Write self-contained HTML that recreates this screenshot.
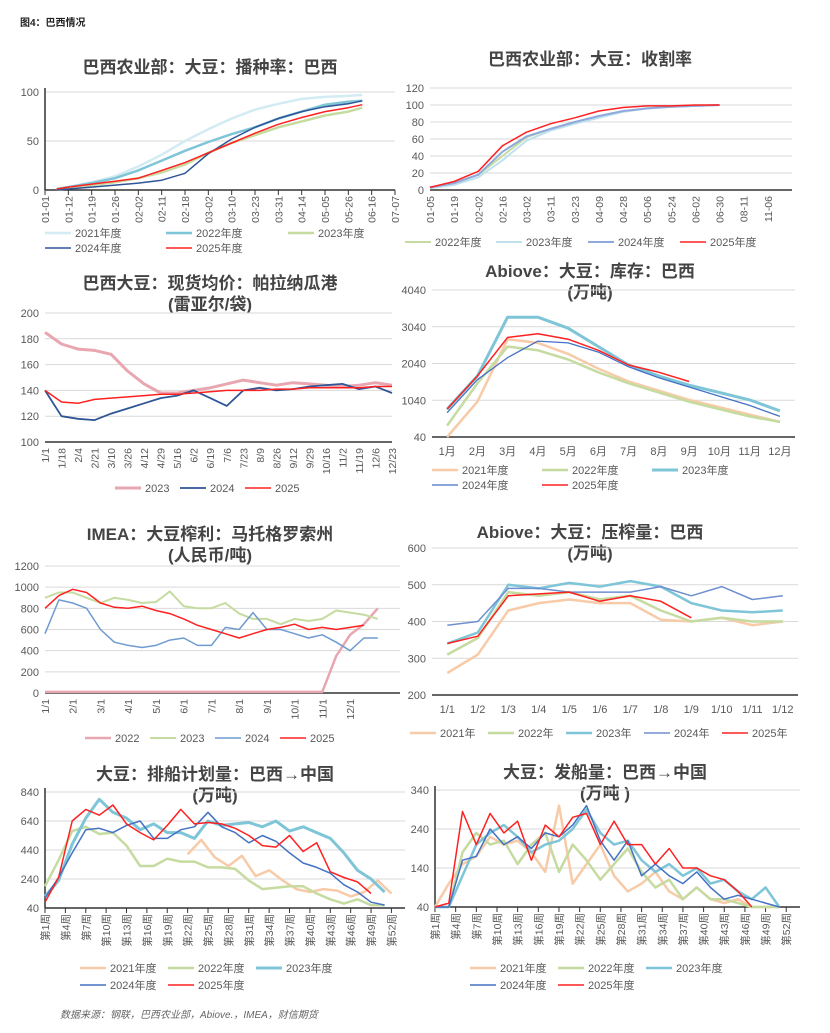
<!DOCTYPE html>
<html><head><meta charset="utf-8"><style>
body{margin:0;background:#fff;}
svg{display:block;font-family:"Liberation Sans","Noto Sans CJK SC",sans-serif;}
</style></head><body>
<svg id="c" width="830" height="1033" viewBox="0 0 830 1033">
<text x="20" y="26" font-size="10" font-weight="bold" fill="#222">图4：巴西情况</text>
<text x="60" y="1018" font-size="10" font-style="italic" fill="#666">数据来源：钢联，巴西农业部，Abiove.，IMEA，财信期货</text>
</svg>
<script>
// ---- Chart 1 data: planting rate
const c1Labels=["01-01","01-12","01-19","01-26","02-02","02-11","02-18","03-02","03-10","03-23","03-31","04-14","05-05","05-26","06-16","07-07"];
const c1X=[0.5,1,2,3,4,5,6,7,8,9,10,11,12,13,13.6];
const c1s2021=[1,3,8,14,24,36,50,62,73,82,88,93,95,96,97];
const c1s2022=[1,3,7,12,20,30,40,49,57,64,73,80,87,90,91];
const c1s2023=[0,2,5,8,12,18,26,38,48,56,64,70,76,80,84];
const c1s2024=[0,1,3,5,7,10,17,37,52,64,73,80,85,88,91];
const c1s2025=[1,3,6,9,12,20,28,38,48,58,67,74,80,84,87];
// ---- Chart 2: harvest rate
const c2Labels=["01-05","01-19","02-02","02-16","03-02","03-11","03-23","04-09","04-28","05-06","05-24","06-02","06-30","08-11","11-06",""];
const c2X=[0,1,2,3,4,5,6,7,8,9,10,11,12];
const c2s2022=[3,8,18,40,62,72,80,86,92,96,98,99,100];
const c2s2023=[2,6,15,35,58,70,78,85,92,96,98,99,100];
const c2s2024=[3,8,18,45,63,72,80,87,93,96,98,99,100];
const c2s2025=[3,10,22,52,68,78,85,93,97,99,99,100,100];
// ---- Chart 3: spot price Paranagua
const c3Labels=["1/1","1/18","2/4","2/21","3/10","3/26","4/12","4/29","5/16","6/2","6/19","7/6","7/23","8/9","8/26","9/12","9/29","10/16","11/2","11/19","12/6","12/23"];
const c3X=[0,1,2,3,4,5,6,7,8,9,10,11,12,13,14,15,16,17,18,19,20,21];
const c3s2023=[185,176,172,171,168,155,145,138,138,140,142,145,148,146,144,146,145,144,143,144,146,144];
const c3s2024=[140,120,118,117,122,126,130,134,136,140,134,128,140,142,140,141,143,144,145,141,143,138];
const c3s2025=[140,131,130,133,134,135,136,137,137,138,139,140,140,140,141,141,142,142,142,142,143,143];
// ---- Chart 4: Abiove stocks
const mLabels=["1月","2月","3月","4月","5月","6月","7月","8月","9月","10月","11月","12月"];
const mX=[0,1,2,3,4,5,6,7,8,9,10,11];
const c4s2021=[40,1000,2700,2600,2300,1900,1550,1300,1050,850,650,450];
const c4s2022=[350,1500,2500,2400,2150,1800,1500,1250,1000,800,600,450];
const c4s2023=[800,1700,3300,3300,3000,2500,2000,1700,1450,1250,1050,750];
const c4s2024=[700,1600,2200,2650,2600,2350,1950,1650,1400,1150,900,600];
const c4s2025=[800,1700,2750,2850,2700,2400,2000,1800,1550];
// ---- Chart 5: IMEA crush margin
const c5Labels=["1/1","2/1","3/1","4/1","5/1","6/1","7/1","8/1","9/1","10/1","11/1","12/1"];
const c5X=[0,0.5,1,1.5,2,2.5,3,3.5,4,4.5,5,5.5,6,6.5,7,7.5,8,8.5,9,9.5,10,10.5,11,11.5,12];
const c5s2022=[10,10,10,10,10,10,10,10,10,10,10,10,10,10,10,10,10,10,10,10,10,350,550,650,800];
const c5s2023=[900,950,950,900,850,900,880,850,860,960,820,800,800,850,750,700,700,650,700,680,700,780,760,740,700];
const c5s2024=[560,880,850,800,600,480,450,430,450,500,520,450,450,620,600,760,600,600,560,520,550,480,400,520,520];
const c5s2025=[800,920,980,950,850,810,800,820,780,750,700,640,600,560,520,560,600,620,650,600,620,600,620,640];
// ---- Chart 6: Abiove crush
const c6Labels=["1/1","1/2","1/3","1/4","1/5","1/6","1/7","1/8","1/9","1/10","1/11","1/12"];
const c6s2021=[260,310,430,450,460,450,450,405,400,410,390,400];
const c6s2022=[310,355,480,470,480,460,470,430,400,410,400,400];
const c6s2023=[340,370,500,490,505,495,510,495,450,430,425,430];
const c6s2024=[390,400,490,490,480,480,480,495,470,495,460,470];
const c6s2025=[340,360,470,475,480,455,470,455,410];
// ---- Chart 7: shipping plan (weeks)
const wLabels=["第1周","第4周","第7周","第10周","第13周","第16周","第19周","第22周","第25周","第28周","第31周","第34周","第37周","第40周","第43周","第46周","第49周","第52周"];
const wX=[1,3,5,7,9,11,13,15,17,19,21,23,25,27,29,31,33,35,37,39,41,43,45,47,49,51];
const w21X=[22,24,26,28,30,32,34,36,38,40,42,44,46,48,50,52];
const c7s2021=[410,510,390,330,400,260,300,230,170,150,170,160,120,150,230,140];
const c7s2022=[190,370,570,600,550,560,470,330,330,380,360,360,320,320,310,230,170,180,190,190,140,100,70,100,60,60];
const c7s2023=[120,230,480,660,790,700,660,580,620,560,560,520,640,610,620,630,600,640,570,600,560,520,420,300,240,150];
const c7s2024=[110,250,420,580,590,560,610,640,520,520,580,600,700,600,560,490,540,500,420,350,320,280,200,150,80,60];
const c7s2025=[80,250,640,720,680,750,620,560,510,610,720,620,630,620,590,540,470,460,540,430,490,290,250,220,140];
// ---- Chart 8: shipments (weeks)
const c8s2021=[40,100,150,170,220,200,210,180,130,300,100,150,200,120,80,100,130,80,60,90,60,50,60,40,40,40];
const c8s2022=[40,40,180,230,200,210,150,200,230,130,200,160,110,150,190,130,90,110,60,90,60,60,50,40,40,40];
const c8s2023=[40,40,120,200,230,250,220,180,200,210,240,290,230,200,210,160,130,150,120,140,100,110,80,60,90,40];
const c8s2024=[40,40,160,170,240,200,220,190,230,220,250,300,210,160,210,120,150,120,100,130,90,60,70,60,50,40];
const c8s2025=[40,50,285,200,280,230,260,160,250,220,270,280,200,260,200,200,150,190,140,140,120,110,80,40];

const NS="http://www.w3.org/2000/svg";
const svg=document.getElementById('c');
function mk(tag,attrs,parent){const e=document.createElementNS(NS,tag);for(const k in attrs)e.setAttribute(k,attrs[k]);(parent||svg).appendChild(e);return e;}

function chart(cfg){
  const g=mk('g',{});
  
  
  const sx=v=>cfg.x0+(v-cfg.dx[0])/(cfg.dx[1]-cfg.dx[0])*(cfg.x1-cfg.x0);
  const sy=v=>cfg.y1-(v-cfg.dy[0])/(cfg.dy[1]-cfg.dy[0])*(cfg.y1-cfg.y0);
  cfg.titles.forEach((t,i)=>{const e=mk('text',{x:cfg.tx,y:cfg.ty+i*21,'font-size':17,'font-weight':'bold',fill:'#444','text-anchor':'middle'},g);e.textContent=t;
    
    });
  cfg.yticks.forEach(v=>{
    const y=sy(v);
    mk('line',{x1:cfg.x0,x2:cfg.x1,y1:y,y2:y,stroke:'#d9d9d9','stroke-width':1},g);
    const t=mk('text',{x:cfg.x0-6,y:y+4,'font-size':11,fill:'#595959','text-anchor':'end'},g);t.textContent=v;
    
    
  });
  mk('line',{x1:cfg.x0,x2:cfg.x1,y1:cfg.y1,y2:cfg.y1,stroke:cfg.axisColor||'#333','stroke-width':1.5},g);
  if(cfg.leftAxis) mk('line',{x1:cfg.x0,x2:cfg.x0,y1:cfg.y0-4,y2:cfg.y1,stroke:'#333','stroke-width':1.5},g);
  cfg.xlabels.forEach((l,i)=>{
    const x=sx(cfg.xpos(i));
    if(cfg.xticks) mk('line',{x1:x,x2:x,y1:cfg.y1,y2:cfg.y1+5,stroke:'#333'},g);
    let t;
    if(cfg.rot){t=mk('text',{x:x+4,y:cfg.y1+6,'font-size':10.5,fill:'#595959','text-anchor':'end',transform:`rotate(-90 ${x+4} ${cfg.y1+6})`},g);}
    else{t=mk('text',{x:x,y:cfg.y1+18,'font-size':11,fill:'#595959','text-anchor':'middle'},g);}
    t.textContent=l;
    
    
  });
  cfg.series.forEach(s=>{
    const pts=s.ys.map((v,i)=>sx(s.xs[i]).toFixed(1)+','+sy(v).toFixed(1)).join(' ');
    const p=mk('polyline',{points:pts,fill:'none',stroke:s.color,'stroke-width':s.w||1.5,'stroke-linejoin':'round'},g);
    
    
  });
  cfg.legend.forEach(([x,y,i])=>{
    const s=cfg.series[i];
    mk('line',{x1:x,x2:x+26,y1:y-4,y2:y-4,stroke:s.color,'stroke-width':s.w||1.5},g);
    const t=mk('text',{x:x+30,y:y,'font-size':11,fill:'#595959'},g);t.textContent=s.label;
    
    
  });
}
const L=n=>n+'年度';
chart({name:'planting-rate-chart',titles:['巴西农业部：大豆：播种率：巴西'],tx:210,ty:73,x0:45,x1:395,y0:92,y1:190,dx:[0,15],dy:[0,100],yticks:[0,50,100],
 xlabels:c1Labels,xpos:i=>i,rot:true,xticks:true,leftAxis:true,
 series:[{name:'2021',label:L(2021),color:'#d3ebf3',w:2.5,xs:c1X,ys:c1s2021},{name:'2022',label:L(2022),color:'#7ec5d8',w:2.5,xs:c1X,ys:c1s2022},{name:'2023',label:L(2023),color:'#c5dba0',w:2.5,xs:c1X,ys:c1s2023},{name:'2024',label:L(2024),color:'#2f5597',w:1.5,xs:c1X,ys:c1s2024},{name:'2025',label:L(2025),color:'#ff2020',w:1.5,xs:c1X,ys:c1s2025}],
 legend:[[45,237,0],[166,237,1],[288,237,2],[45,252,3],[166,252,4]]});
chart({name:'harvest-rate-chart',titles:['巴西农业部：大豆：收割率'],tx:590,ty:65,x0:430,x1:792,y0:88,y1:190,dx:[0,15],dy:[0,120],yticks:[0,20,40,60,80,100,120],
 xlabels:c2Labels,xpos:i=>i,rot:true,leftAxis:false,
 series:[{name:'2022',label:L(2022),color:'#c5dba0',w:2,xs:c2X,ys:c2s2022},{name:'2023',label:L(2023),color:'#bfe1ee',w:2,xs:c2X,ys:c2s2023},{name:'2024',label:L(2024),color:'#8ea9db',w:2,xs:c2X,ys:c2s2024},{name:'2025',label:L(2025),color:'#ff2020',w:1.5,xs:c2X,ys:c2s2025}],
 legend:[[405,246,0],[496,246,1],[588,246,2],[680,246,3]]});
chart({name:'spot-price-chart',titles:['巴西大豆：现货均价：帕拉纳瓜港','(雷亚尔/袋)'],tx:210,ty:289,x0:45,x1:392,y0:313,y1:442,dx:[0,21],dy:[100,200],yticks:[100,120,140,160,180,200],
 xlabels:c3Labels,xpos:i=>i,rot:true,
 series:[{name:'2023',label:'2023',color:'#e8a7b0',w:3,xs:c3X,ys:c3s2023},{name:'2024',label:'2024',color:'#2f5597',w:1.8,xs:c3X,ys:c3s2024},{name:'2025',label:'2025',color:'#ff2020',w:1.5,xs:c3X,ys:c3s2025}],
 legend:[[115,492,0],[180,492,1],[245,492,2]]});
chart({name:'abiove-stock-chart',titles:['Abiove：大豆：库存：巴西','(万吨)'],tx:590,ty:277,x0:432,x1:795,y0:290,y1:437,dx:[-0.5,11.5],dy:[40,4040],yticks:[40,1040,2040,3040,4040],
 xlabels:mLabels,xpos:i=>i,rot:false,
 series:[{name:'2021',label:'2021年度',color:'#f8cba8',w:2.5,xs:mX,ys:c4s2021},{name:'2022',label:'2022年度',color:'#c5dba0',w:2.5,xs:mX,ys:c4s2022},{name:'2023',label:'2023年度',color:'#7ec5d8',w:3,xs:mX,ys:c4s2023},{name:'2024',label:'2024年度',color:'#4472c4',w:1.3,xs:mX,ys:c4s2024},{name:'2025',label:'2025年度',color:'#ff2020',w:1.5,xs:mX,ys:c4s2025}],
 legend:[[432,474,0],[542,474,1],[652,474,2],[432,489,3],[542,489,4]]});
chart({name:'imea-margin-chart',titles:['IMEA：大豆榨利：马托格罗索州','(人民币/吨)'],tx:210,ty:540,x0:45,x1:400,y0:566,y1:693,dx:[0,12.8],dy:[0,1200],yticks:[0,200,400,600,800,1000,1200],
 xlabels:c5Labels,xpos:i=>i,rot:true,
 series:[{name:'2022',label:'2022',color:'#e8a7b0',w:2.5,xs:c5X,ys:c5s2022},{name:'2023',label:'2023',color:'#c5dba0',w:2,xs:c5X,ys:c5s2023},{name:'2024',label:'2024',color:'#6f9bd1',w:1.5,xs:c5X,ys:c5s2024},{name:'2025',label:'2025',color:'#ff2020',w:1.5,xs:c5X.slice(0,24),ys:c5s2025}],
 legend:[[85,742,0],[150,742,1],[215,742,2],[280,742,3]]});
chart({name:'abiove-crush-chart',titles:['Abiove：大豆：压榨量：巴西','(万吨)'],tx:590,ty:538,x0:432,x1:798,y0:548,y1:695,dx:[-0.5,11.5],dy:[200,600],yticks:[200,300,400,500,600],
 xlabels:c6Labels,xpos:i=>i,rot:false,
 series:[{name:'2021',label:'2021年',color:'#f8cba8',w:2.5,xs:mX,ys:c6s2021},{name:'2022',label:'2022年',color:'#c5dba0',w:2.5,xs:mX,ys:c6s2022},{name:'2023',label:'2023年',color:'#7ec5d8',w:2.5,xs:mX,ys:c6s2023},{name:'2024',label:'2024年',color:'#6f8fd0',w:1.5,xs:mX,ys:c6s2024},{name:'2025',label:'2025年',color:'#ff2020',w:1.5,xs:mX,ys:c6s2025}],
 legend:[[410,737,0],[488,737,1],[566,737,2],[644,737,3],[722,737,4]]});
chart({name:'shipping-plan-chart',titles:['大豆：排船计划量：巴西→中国','(万吨)'],tx:215,ty:780,x0:45,x1:405,y0:792,y1:908,dx:[1,54],dy:[40,840],yticks:[40,240,440,640,840],
 xlabels:wLabels,xpos:i=>1+i*3,rot:true,xticks:true,leftAxis:true,
 series:[{name:'2021',label:'2021年度',color:'#f8cba8',w:2.5,xs:w21X,ys:c7s2021},{name:'2022',label:'2022年度',color:'#c5dba0',w:2.5,xs:wX,ys:c7s2022},{name:'2023',label:'2023年度',color:'#7ec5d8',w:3,xs:wX,ys:c7s2023},{name:'2024',label:'2024年度',color:'#4472c4',w:1.5,xs:wX,ys:c7s2024},{name:'2025',label:'2025年度',color:'#ff2020',w:1.5,xs:wX,ys:c7s2025}],
 legend:[[80,972,0],[168,972,1],[256,972,2],[80,989,3],[168,989,4]]});
chart({name:'shipments-chart',titles:['大豆：发船量：巴西→中国','(万吨 )'],tx:605,ty:778,x0:435,x1:800,y0:790,y1:907,dx:[1,54],dy:[40,340],yticks:[40,140,240,340],
 xlabels:wLabels,xpos:i=>1+i*3,rot:true,xticks:true,leftAxis:true,
 series:[{name:'2021',label:'2021年度',color:'#f8cba8',w:2.5,xs:wX,ys:c8s2021},{name:'2022',label:'2022年度',color:'#c5dba0',w:2.5,xs:wX,ys:c8s2022},{name:'2023',label:'2023年度',color:'#7ec5d8',w:2.5,xs:wX,ys:c8s2023},{name:'2024',label:'2024年度',color:'#4472c4',w:1.5,xs:wX,ys:c8s2024},{name:'2025',label:'2025年度',color:'#ff2020',w:1.5,xs:wX.slice(0,24),ys:c8s2025}],
 legend:[[470,972,0],[558,972,1],[646,972,2],[470,989,3],[558,989,4]]});
</script>
</body></html>
